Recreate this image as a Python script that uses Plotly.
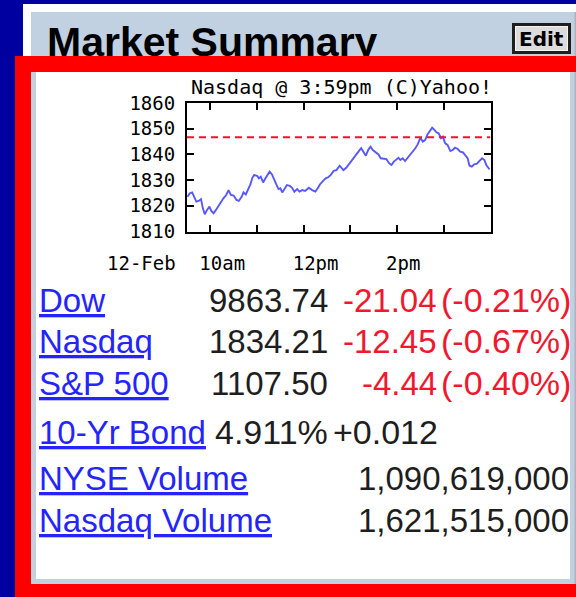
import plotly.graph_objects as go

# ---------------- data ----------------
# Nasdaq intraday (decimal hours, index level)
times = [9.51, 9.56, 9.61, 9.66, 9.70, 9.75, 9.80, 9.84, 9.88, 9.93, 9.98, 10.02, 10.07, 10.12,
         10.18, 10.23, 10.28, 10.34, 10.39, 10.44, 10.50, 10.56, 10.61, 10.67, 10.71, 10.76, 10.81,
         10.86, 10.90, 10.94, 11.00, 11.04, 11.08, 11.13, 11.18, 11.23, 11.27, 11.32, 11.37, 11.41,
         11.46, 11.50, 11.54, 11.59, 11.64, 11.70, 11.75, 11.80, 11.86, 11.91, 11.97, 12.03, 12.11,
         12.18, 12.25, 12.30, 12.35, 12.41, 12.47, 12.53, 12.58, 12.64, 12.70, 12.77, 12.85, 12.91,
         12.96, 13.01, 13.07, 13.13, 13.18, 13.23, 13.28, 13.33, 13.38, 13.43, 13.48, 13.54, 13.60,
         13.65, 13.71, 13.77, 13.83, 13.88, 13.93, 13.98, 14.03, 14.07, 14.12, 14.17, 14.23, 14.28,
         14.34, 14.39, 14.44, 14.50, 14.55, 14.60, 14.65, 14.70, 14.75, 14.80, 14.84, 14.89, 14.94,
         14.98, 15.03, 15.08, 15.14, 15.19, 15.24, 15.30, 15.35, 15.41, 15.46, 15.51, 15.55, 15.60,
         15.65, 15.71, 15.76, 15.82, 15.87, 15.91, 15.96, 15.98]
nasdaq = [1823.5, 1824.9, 1825.2, 1822.9, 1821.6, 1821.9, 1822.6, 1819.0, 1816.7, 1818.4, 1819.7,
          1818.0, 1817.1, 1818.4, 1820.3, 1821.6, 1822.9, 1824.2, 1826.1, 1824.2, 1824.0, 1822.3,
          1821.9, 1823.5, 1825.2, 1824.4, 1826.1, 1828.4, 1830.9, 1832.0, 1831.7, 1830.7, 1831.3,
          1829.1, 1830.7, 1832.2, 1833.3, 1832.2, 1830.4, 1828.4, 1826.5, 1826.8, 1825.2, 1826.8,
          1828.1, 1827.8, 1827.0, 1825.5, 1826.5, 1825.5, 1826.1, 1825.8, 1827.0, 1826.1, 1825.5,
          1826.8, 1828.4, 1829.6, 1830.7, 1831.2, 1832.0, 1833.6, 1833.9, 1835.6, 1833.9, 1834.8,
          1836.1, 1837.2, 1838.7, 1840.0, 1841.3, 1842.4, 1841.1, 1839.5, 1841.7, 1843.0, 1841.7,
          1840.8, 1840.0, 1838.5, 1838.2, 1838.2, 1836.5, 1835.9, 1837.2, 1837.8, 1838.7, 1837.8,
          1838.5, 1837.4, 1838.7, 1839.7, 1841.1, 1842.4, 1843.9, 1846.5, 1845.0, 1845.6, 1847.8,
          1849.1, 1850.4, 1849.5, 1848.6, 1848.2, 1846.3, 1846.9, 1844.3, 1843.7, 1841.3, 1841.7,
          1842.6, 1842.1, 1841.1, 1840.8, 1839.7, 1838.5, 1835.6, 1835.2, 1836.1, 1836.4, 1837.4,
          1838.5, 1837.8, 1835.9, 1834.6, 1834.2]
prev_close = 1846.66
session = [9.5, 16.0]
y_ticks = [1810, 1820, 1830, 1840, 1850, 1860]
x_tickvals = [10, 11, 12, 13, 14, 15]
x_ticktext = ["10am", "", "12pm", "", "2pm", ""]
chart_date = "12-Feb"
chart_title = "Nasdaq @ 3:59pm (C)Yahoo!"

index_names = ["Dow", "Nasdaq", "S&P 500"]
index_values = [9863.74, 1834.21, 1107.50]
index_changes = [-21.04, -12.45, -4.44]
index_pcts = [-0.21, -0.67, -0.40]
bond_name = "10-Yr Bond"
bond_yield = 4.911
bond_change = 0.012
volume_names = ["NYSE Volume", "Nasdaq Volume"]
volumes = [1090619000, 1621515000]

# ---------------- layout helpers ----------------
W, H = 576, 597
def px(x):
    return x / W
def py(y):
    return 1 - y / H

NAVY = "#0000A0"
RED = "#FF0000"
PANEL = "#C2D1E1"
LINK = "#2424FF"
TXT = "#1E1E1E"
NEG = "#F0182E"
SANS = "Liberation Sans, Arial, sans-serif"
MONO = "DejaVu Sans Mono, monospace"

fig = go.Figure()
fig.add_trace(go.Scatter(x=times, y=nasdaq, mode="lines",
                         line=dict(color="#5858FF", width=1.9), hoverinfo="skip"))
fig.add_trace(go.Scatter(x=session, y=[prev_close, prev_close], mode="lines",
                         line=dict(color="#FF1028", width=2, dash="7px,5px"), hoverinfo="skip"))

# header text on a full-page pixel overlay axis (so the red frame can cover it)
HFS = 41
fig.add_trace(go.Scatter(x=[47], y=[56 - 0.25 * HFS], xaxis="x2", yaxis="y2", mode="text",
                         text=["Market Summary"], textposition="middle right",
                         textfont=dict(family=SANS, size=HFS, color="black", weight="bold"),
                         hoverinfo="skip", cliponaxis=False))

shapes = []
def rect(x0, y0, x1, y1, color, layer="below"):
    shapes.append(dict(type="rect", xref="paper", yref="paper", x0=px(x0), x1=px(x1),
                       y0=py(y1), y1=py(y0), fillcolor=color, line=dict(width=0), layer=layer))

rect(23, 4, 576, 597, "white")
rect(31, 12, 576, 597, PANEL)
rect(574.5, 12, 576, 597, "#A9B4BF")
rect(36, 72, 570, 579, "white")
# Edit button
rect(512, 23, 571, 54, "#1E1E1E")
rect(515, 26, 568, 51, "#F4F4F4")
rect(516, 27, 567, 50, "#DCDCDC")
# red frame (above the header text)
rect(15, 56, 576, 72, RED, "above")
rect(15, 56, 31, 597, RED, "above")
rect(15, 584, 576, 597, RED, "above")

annotations = []
def text(x, ybase, s, fs=33, color=TXT, anchor="left", family=SANS, under=False, bold=False,
         asc=0.905, desc=0.212):
    ymid = ybase - (asc - desc) / 2 * fs
    font = dict(family=family, size=fs, color=color)
    if under:
        font["lineposition"] = "under"
    if bold:
        font["weight"] = "bold"
    annotations.append(dict(xref="paper", yref="paper", x=px(x), y=py(ymid), text=s,
                            showarrow=False, xanchor=anchor, yanchor="middle", font=font))

# chart title and date label
text(341.5, 94, chart_title, fs=20, color="black", anchor="center", family=MONO,
     asc=0.928, desc=0.236)
text(105, 270, chart_date, fs=19, color="black", anchor="left", family=MONO,
     asc=0.928, desc=0.236)
# Edit label
text(541.5, 45.5, "Edit", fs=20, color="black", anchor="center", family="DejaVu Sans",
     bold=True, asc=0.928, desc=0.236)

row_base = [312, 353, 395, 444, 490, 532]
for i, name in enumerate(index_names):
    b = row_base[i]
    text(37, b, name, color=LINK, under=True)
    text(330, b, f"{index_values[i]:.2f}", anchor="right")
    text(439, b, f"{index_changes[i]:.2f}", color=NEG, anchor="right")
    text(573, b, f"({index_pcts[i]:.2f}%)", fs=34, color=NEG, anchor="right")

b = row_base[3]
text(37, b, bond_name, color=LINK, under=True)
text(330, b, f"{bond_yield:.3f}%", fs=34, anchor="right")
text(440, b, f"{bond_change:+.3f}", fs=34, anchor="right")

for j, name in enumerate(volume_names):
    b = row_base[4 + j]
    text(37, b, name, color=LINK, under=True)
    text(571, b, f"{volumes[j]:,}", anchor="right")

axis_common = dict(showline=True, linewidth=2, linecolor="black", ticks="inside", ticklen=7,
                   tickwidth=2, tickcolor="black", mirror="ticks", showgrid=False,
                   zeroline=False, fixedrange=True, automargin=False,
                   tickfont=dict(family=MONO, size=19, color="black"))

fig.update_layout(
    width=W, height=H, margin=dict(l=0, r=0, t=0, b=0, pad=0, autoexpand=False),
    paper_bgcolor=NAVY, plot_bgcolor="rgba(0,0,0,0)", showlegend=False,
    xaxis=dict(domain=[px(187), px(490.5)], range=session, tickvals=x_tickvals,
               ticktext=x_ticktext, ticklabelposition="outside right", ticklabelshift=-13,
               ticklabelstandoff=14, anchor="y", **axis_common),
    yaxis=dict(domain=[py(231.5), py(103)], range=[y_ticks[0], y_ticks[-1]], tickvals=y_ticks,
               ticklabelstandoff=6, anchor="x", **axis_common),
    xaxis2=dict(domain=[0, 1], range=[0, W], visible=False, anchor="y2", fixedrange=True,
                automargin=False),
    yaxis2=dict(domain=[0, 1], range=[H, 0], visible=False, anchor="x2", fixedrange=True,
                automargin=False),
    shapes=shapes, annotations=annotations,
)

fig.write_html("out.html", config={"staticPlot": True},
               post_script="document.body.style.margin='0';document.body.style.overflow='hidden';")
